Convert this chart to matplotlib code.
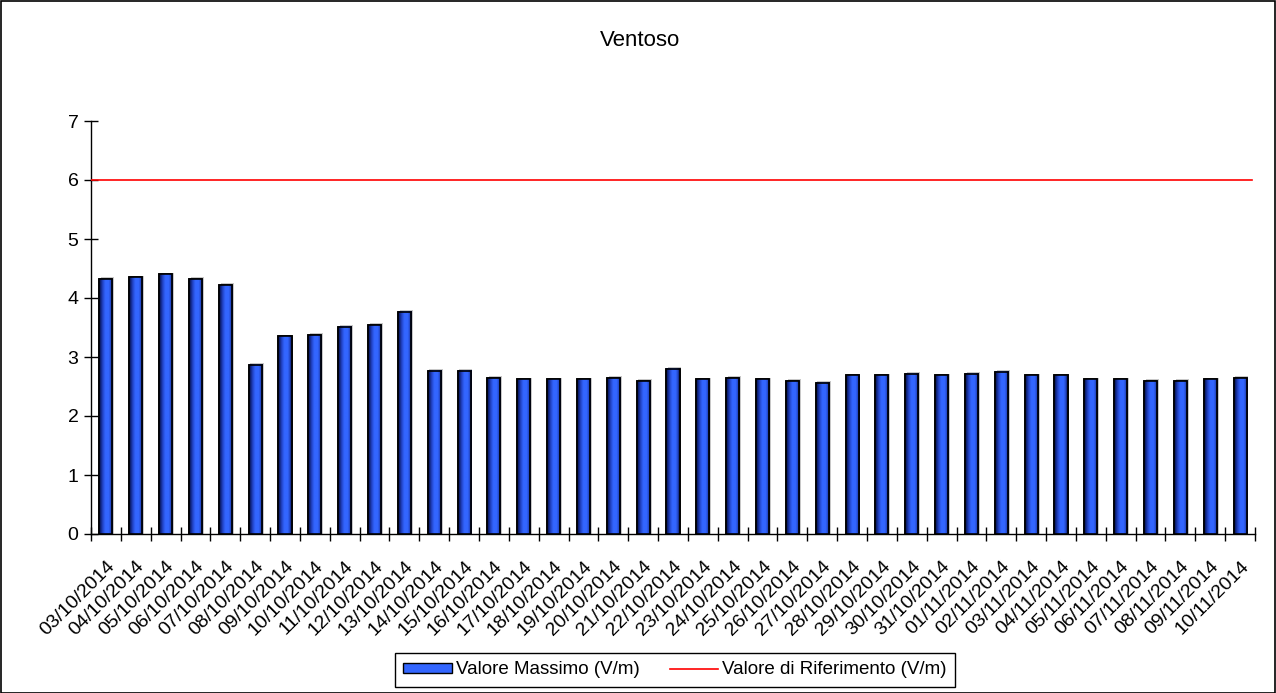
import matplotlib
matplotlib.use("Agg")
import matplotlib.pyplot as plt
import numpy as np
from matplotlib.colors import LinearSegmentedColormap
from matplotlib.patches import Rectangle
from matplotlib.lines import Line2D

plt.rcParams['font.family'] = ['Liberation Sans', 'DejaVu Sans']

dates = ["03/10/2014", "04/10/2014", "05/10/2014", "06/10/2014", "07/10/2014",
         "08/10/2014", "09/10/2014", "10/10/2014", "11/10/2014", "12/10/2014",
         "13/10/2014", "14/10/2014", "15/10/2014", "16/10/2014", "17/10/2014",
         "18/10/2014", "19/10/2014", "20/10/2014", "21/10/2014", "22/10/2014",
         "23/10/2014", "24/10/2014", "25/10/2014", "26/10/2014", "27/10/2014",
         "28/10/2014", "29/10/2014", "30/10/2014", "31/10/2014", "01/11/2014",
         "02/11/2014", "03/11/2014", "04/11/2014", "05/11/2014", "06/11/2014",
         "07/11/2014", "08/11/2014", "09/11/2014", "10/11/2014"]
valore_massimo = [4.32, 4.35, 4.40, 4.32, 4.22, 2.87, 3.35, 3.37, 3.51, 3.54,
                  3.77, 2.77, 2.77, 2.64, 2.62, 2.62, 2.62, 2.64, 2.59, 2.80,
                  2.62, 2.64, 2.62, 2.59, 2.56, 2.69, 2.69, 2.72, 2.69, 2.72,
                  2.75, 2.69, 2.69, 2.62, 2.62, 2.59, 2.59, 2.62, 2.64]
valore_riferimento = 6.0

fig = plt.figure(figsize=(12.76, 6.93), dpi=100)
W, H = 1276, 693
ax = fig.add_axes([91 / W, (H - 534) / H, (1255 - 91) / W, (534 - 121) / H])

x = np.arange(len(dates))
bw = 0.44
cmap = LinearSegmentedColormap.from_list(
    "barg", [(0.0, "#000a40"), (0.25, "#2040c0"), (0.45, "#3366ff"),
             (0.7, "#3366ff"), (0.85, "#2448c8"), (1.0, "#000a40")])
grad = np.linspace(0, 1, 64).reshape(1, -1)

# shadow
for xi, v in zip(x, valore_massimo):
    ax.add_patch(Rectangle((xi - bw / 2 + 0.06, 0), bw, v + 0.03, facecolor="#c8c8c8",
                           edgecolor="none", zorder=2))
bars = ax.bar(x, valore_massimo, width=bw, color="#3366ff", edgecolor="black",
              linewidth=1.2, zorder=3)
for b in bars:
    x0 = b.get_x()
    ax.imshow(grad, extent=[x0, x0 + b.get_width(), 0, b.get_height()], aspect="auto",
              cmap=cmap, zorder=3.2, interpolation="bilinear")
    ax.add_patch(Rectangle((x0, 0), b.get_width(), b.get_height(), facecolor="none",
                           edgecolor="black", linewidth=1.2, zorder=3.5))

ax.axhline(valore_riferimento, color="#ff0000", linewidth=1.2, zorder=4, xmax=0.997)

ax.set_xlim(-0.5, len(dates) - 0.5)
ax.set_ylim(0, 7)
ax.set_yticks(range(0, 8))
ax.tick_params(axis="y", direction="inout", length=10, width=1, labelsize=14, pad=4)
ax.set_xticks(x)
ax.set_xticklabels(dates, rotation=45, ha="right", va="top", rotation_mode="anchor",
                   fontsize=14)
ax.tick_params(axis="x", which="major", length=0, pad=17)
ax.set_xticks(np.arange(-0.5, len(dates)), minor=True)
ax.tick_params(axis="x", which="minor", direction="inout", length=10, width=1)
for s in ["top", "right"]:
    ax.spines[s].set_visible(False)
for s in ["left", "bottom"]:
    ax.spines[s].set_linewidth(1)
ax.set_axisbelow(False)

fig.text(640 / W, 1 - 41 / H, "Ventoso", ha="center", va="center", fontsize=16)

handles = [Rectangle((0, 0), 1, 1, facecolor="#3366ff", edgecolor="black", linewidth=1),
           Line2D([0], [0], color="#ff0000", linewidth=1.2)]
leg = fig.legend(handles, ["Valore Massimo (V/m)", "Valore di Riferimento (V/m)"],
                 loc="center", bbox_to_anchor=(675 / W, 1 - 670 / H), ncol=2,
                 fontsize=13.5, frameon=True, fancybox=False, edgecolor="black",
                 handlelength=2.6, handleheight=0.5, handletextpad=0.2,
                 columnspacing=1.6, borderpad=0.45, framealpha=1)
leg.get_frame().set_linewidth(1)

fig.patches.append(Rectangle((0.5 / W, 0.5 / H), 1 - 1.5 / W, 1 - 1.5 / H,
                             transform=fig.transFigure, fill=False, edgecolor="black",
                             linewidth=1.2))

fig.savefig("out.png", dpi=100)
